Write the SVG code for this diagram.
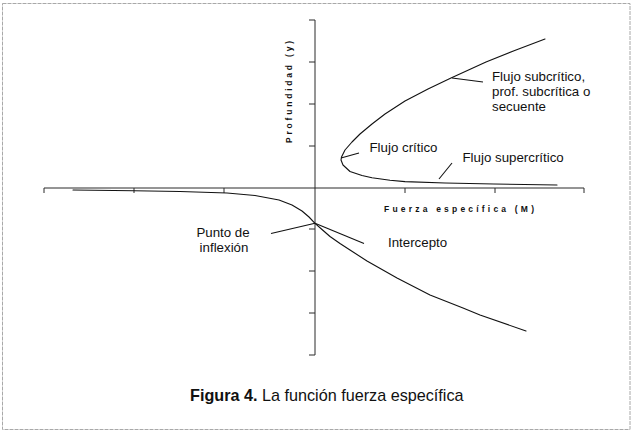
<svg xmlns="http://www.w3.org/2000/svg" width="634" height="434" viewBox="0 0 634 434">
<style>
.frame{fill:none;stroke:#a8a8a8;stroke-width:1;stroke-dasharray:4 1}
.axis{fill:none;stroke:#2a2a2a;stroke-width:1}
.curve{fill:none;stroke:#111;stroke-width:1.1;stroke-linejoin:round;stroke-linecap:round}
.lead{fill:none;stroke:#111;stroke-width:1.1}
.lbl{font-family:"Liberation Sans",Arial,sans-serif;font-size:13.3px;fill:#111}
.ax{font-family:"Liberation Sans",Arial,sans-serif;font-size:8.5px;font-weight:bold;fill:#111}
.title{font-family:"Liberation Sans",Arial,sans-serif;font-size:16.2px;fill:#111}
</style>
<rect width="634" height="434" fill="#ffffff"/>
<rect class="frame" x="2.5" y="3.5" width="627.5" height="426"/>
<g id="axes">
<path class="axis" d="M44,188 H584 M44,188 V193 M134,188 V193 M224,188 V193 M405,188 V193 M495,188 V193 M584,188 V193"/>
<path class="axis" d="M315,20 V355 M309,20 H315 M309,62 H315 M309,104 H315 M309,146 H315 M309,229 H315 M309,271 H315 M309,313 H315 M309,355 H315"/>
<text class="ax" transform="translate(292,143) rotate(-90)" letter-spacing="2.8">Profundidad (y)</text>
<text class="ax" x="384" y="212" letter-spacing="3.2">Fuerza específica (M)</text>
</g>
<g id="connectors">
<polyline class="curve" points="545,39 516,50 486,62 451,78 428,89 405,101 385,114 372,124 360,134 352,142 345,150 341.5,157 341,160 343,165 350,171.5 362,175.5 372,177.8 390,180.3 405,181.6 445,183 494,184 557,185"/>
<polyline class="curve" points="73,190 134,190.8 180,191.5 227,193 255,195.5 279,200 292,205 302,211 309,217 315,223.3 322,229.5 330,236.5 340,243.5 350,250 367,261 397,278 430,295 463,308 480,315 526,331"/>
<line class="lead" x1="452" y1="78" x2="483" y2="82"/>
<line class="lead" x1="341" y1="158" x2="359" y2="153"/>
<line class="lead" x1="439" y1="179" x2="452" y2="163"/>
<line class="lead" x1="271" y1="233.5" x2="315" y2="223.3"/>
<line class="lead" x1="315" y1="223.3" x2="364" y2="243.5"/>
</g>
<g id="flujo-subcritico">
<text class="lbl" x="492" y="80.5">Flujo subcrítico,</text>
<text class="lbl" x="492" y="96">prof. subcrítica o</text>
<text class="lbl" x="492" y="111">secuente</text>
</g>
<g id="flujo-critico"><text class="lbl" x="369.5" y="152">Flujo crítico</text></g>
<g id="flujo-supercritico"><text class="lbl" x="462.5" y="162">Flujo supercrítico</text></g>
<g id="punto-inflexion">
<text class="lbl" x="223" y="237" text-anchor="middle">Punto de</text>
<text class="lbl" x="224" y="252" text-anchor="middle">inflexión</text>
</g>
<g id="intercepto"><text class="lbl" x="388" y="247">Intercepto</text></g>
<g id="caption"><text class="title" x="190" y="401"><tspan font-weight="bold">Figura 4.</tspan> La función fuerza específica</text></g>
</svg>
